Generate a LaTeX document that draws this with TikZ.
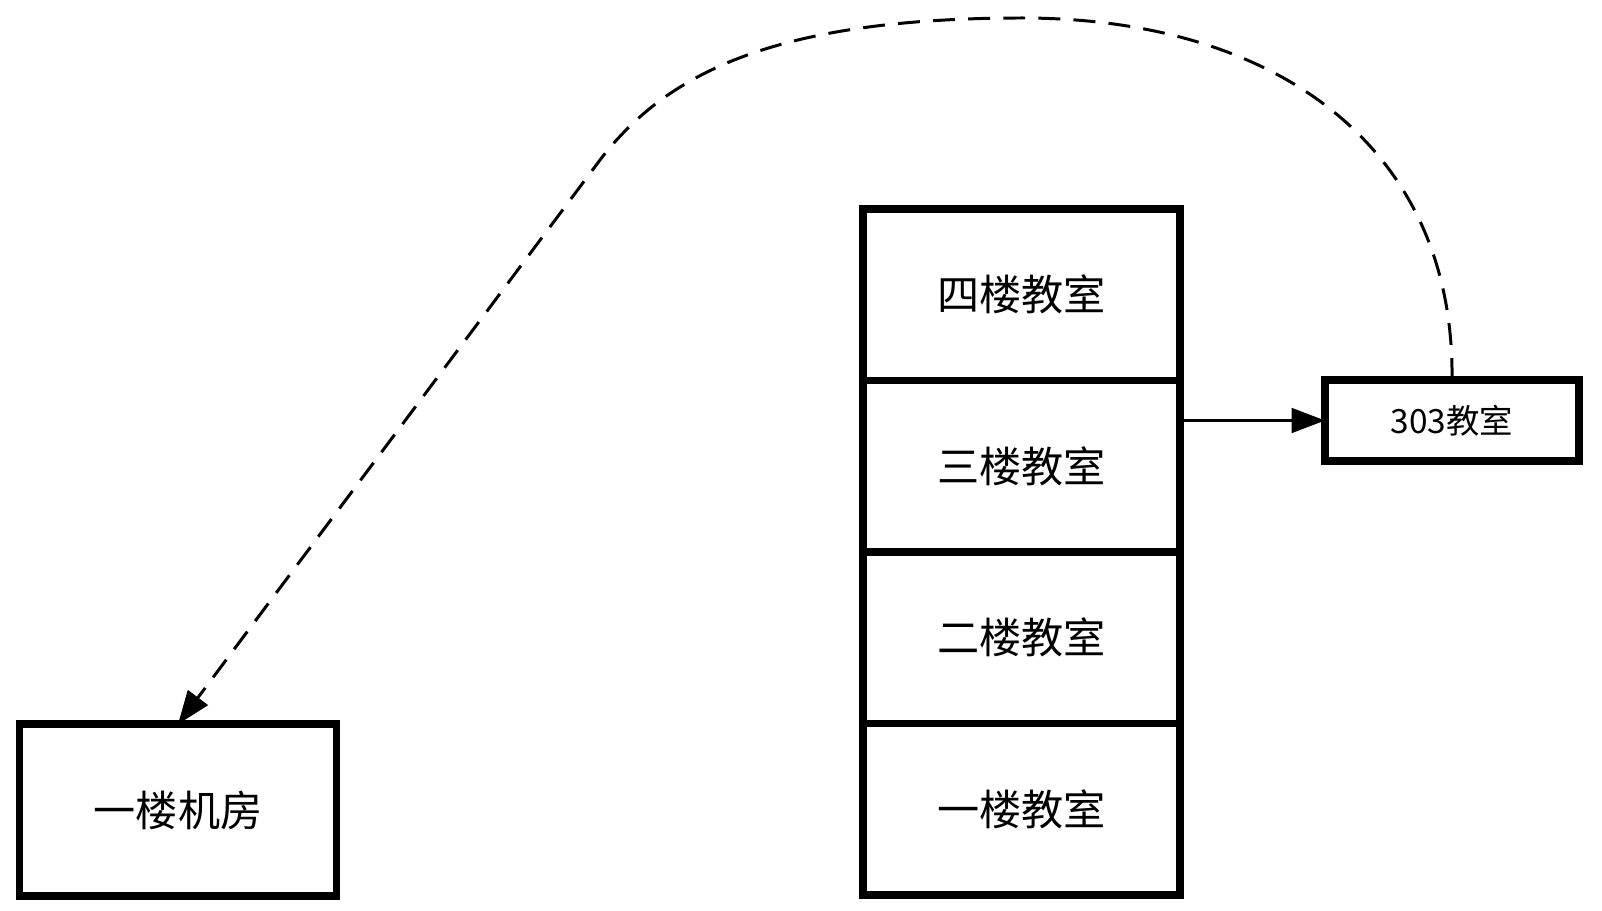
\documentclass[tikz,border=0pt]{standalone}
\usepackage{fontspec}
\setmainfont{Noto Sans CJK SC}
\usetikzlibrary{arrows.meta, positioning}

\begin{document}
\begin{tikzpicture}[
  x=0.02cm, y=-0.02cm,
  room/.style={rectangle, draw=black, line width=4.5pt, outer sep=0pt, minimum width=6.34cm, minimum height=3.43cm, align=center, font=\fontsize{24}{28}\selectfont},
  small/.style={room, minimum width=5.08cm, minimum height=1.62cm, font=\fontsize{19}{22}\selectfont},
  arr/.style={-{Triangle[length=19pt, width=14pt]}, line width=1.7pt},
  link/.style={arr, dash pattern=on 12.5pt off 7.5pt},
]
  \useasboundingbox (0,0) rectangle (1602,911);

  % Floors
  \node[room] (f4) at (1021.5,294.8) {四楼教室};
  \node[room, below=0pt of f4] (f3) {三楼教室};
  \node[room, below=0pt of f3] (f2) {二楼教室};
  \node[room, below=0pt of f2] (f1) {一楼教室};

  \node[room] (lab) at (178,810) {一楼机房};
  \node[small] (c303) at (1452,420.5) {303教室};

  \draw[arr] (f3.east |- c303.west) -- (c303.west);

  % Link: 303 -> lab
  \draw[link] (c303.north) .. controls (1455,150) and (1280,18) .. (1022,18)
    .. controls (772,18) and (665,75) .. (600,160) -- (lab.north);
\end{tikzpicture}
\end{document}
